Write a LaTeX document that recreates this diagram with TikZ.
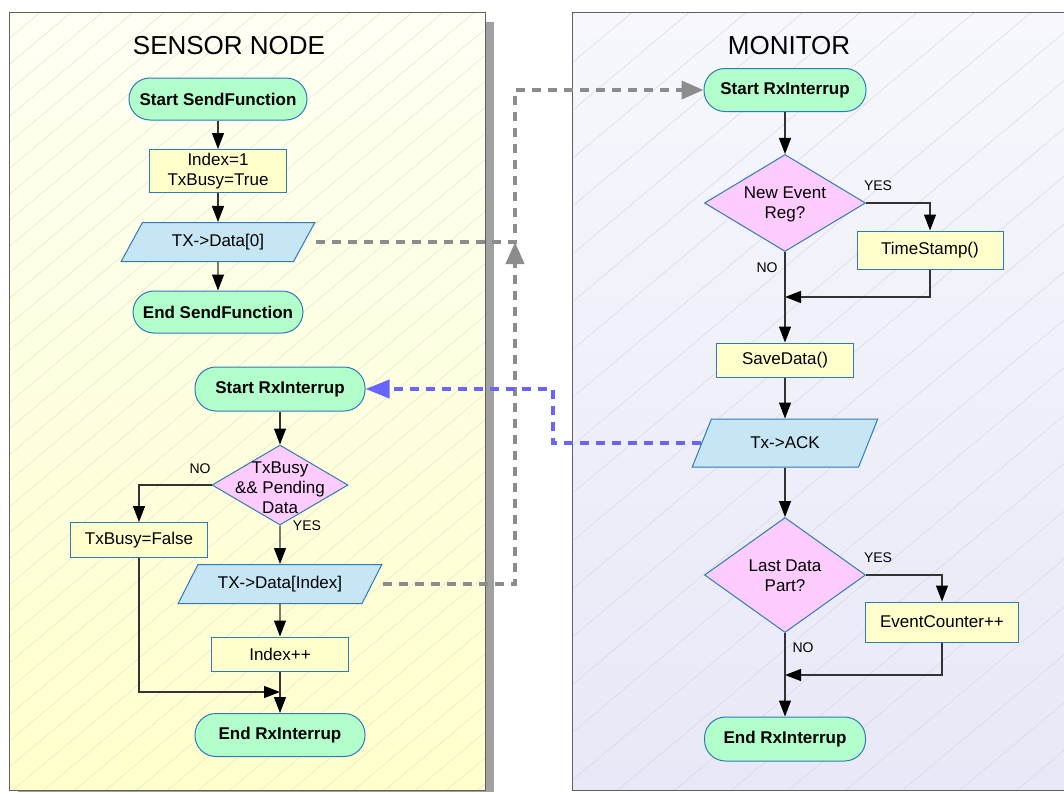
\documentclass[tikz,border=0pt]{standalone}
\usepackage{fontspec}
\setmainfont{Liberation Sans}
\usetikzlibrary{shapes.geometric,arrows.meta}

\definecolor{termfill}{HTML}{B3FFCC}
\definecolor{procfill}{HTML}{FFFFCC}
\definecolor{iofill}{HTML}{C6E5F5}
\definecolor{decfill}{HTML}{FFCCFF}
\definecolor{shapeline}{HTML}{2E7BB8}
\definecolor{flowline}{HTML}{333333}
\definecolor{dashgray}{HTML}{8C8C8C}
\definecolor{dashblue}{HTML}{6666FF}
\definecolor{panelline}{HTML}{606060}
\definecolor{shadowgray}{HTML}{A0A0A0}
\definecolor{sensortop}{HTML}{FFFFF4}
\definecolor{sensorbot}{HTML}{FFFFCC}
\definecolor{monitortop}{HTML}{F7F7FD}
\definecolor{monitorbot}{HTML}{E8E8F8}
\definecolor{hatchS}{HTML}{E2E2CE}
\definecolor{hatchM}{HTML}{D6D6E2}

\begin{document}
\begin{tikzpicture}[x=1pt,y=-1pt,
  font=\fontsize{17}{20}\selectfont,
  term/.style={rectangle, rounded corners=21pt, draw=shapeline, fill=termfill,
    line width=1pt, inner sep=0pt, font=\fontsize{17}{20}\selectfont\bfseries},
  proc/.style={rectangle, draw=shapeline, fill=procfill, line width=1pt,
    inner sep=0pt, align=center},
  io/.style={trapezium, trapezium stretches=true, draw=shapeline, fill=iofill,
    line width=1pt, inner sep=0pt},
  dec/.style={diamond, draw=shapeline, fill=decfill, line width=1pt, inner sep=0pt},
  dectext/.style={align=center, inner sep=0pt},
  lbl/.style={font=\fontsize{14}{16}\selectfont, inner sep=0pt},
  title/.style={font=\fontsize{26}{30}\selectfont, inner sep=0pt},
  flow/.style={draw=flowline, line width=1.1pt,
    -{Triangle[length=16pt,width=12pt,color=black,fill=black]}},
  gdash/.style={draw=dashgray, line width=4pt, dash pattern=on 9pt off 7pt,
    -{Triangle[length=22pt,width=18pt]}},
  bdash/.style={draw=dashblue, line width=4pt, dash pattern=on 9pt off 7pt,
    -{Triangle[length=24pt,width=18pt]}},
  panel/.style={draw=panelline, line width=1pt},
]
\useasboundingbox (0,0) rectangle (1064,792);

% ---------- panels ----------
\fill[shadowgray] (18,22) rectangle (494,792);
\shade[top color=sensortop, bottom color=sensorbot] (9,13) rectangle (485,790);
\begin{scope}
  \clip (9,13) rectangle (485,790);
  \foreach \a in {-960,-929,...,500}
    \draw[hatchS, line width=0.45pt] (\a,800) -- ++(953,-800);
\end{scope}
\draw[panel] (9,13) rectangle (485,790);

\shade[top color=monitortop, bottom color=monitorbot] (572,13) rectangle (1080,790);
\begin{scope}
  \clip (572,13) rectangle (1080,790);
  \foreach \a in {-420,-363,...,1100}
    \draw[hatchM, line width=0.45pt] (\a,800) -- ++(953,-800);
\end{scope}
\draw[panel] (572,13) rectangle (1080,790);

\node[title] (t1) at (229,46) {SENSOR NODE};
\node[title] (t2) at (789,46) {MONITOR};

% ---------- sensor node: send function ----------
\node[term, minimum width=178pt, minimum height=42pt] (s1) at (218,99) {Start SendFunction};
\node[proc, minimum width=137pt, minimum height=43pt] (p1) at (218,171) {Index=1\\TxBusy=True};
\node[io, minimum width=194pt, minimum height=39pt,
  trapezium left angle=50.6, trapezium right angle=129.4] (io1) at (218,242) {TX->Data[0]};
\node[term, minimum width=170pt, minimum height=42pt] (e1) at (218,312) {End SendFunction};

% ---------- sensor node: receive interrupt ----------
\node[term, minimum width=170pt, minimum height=44pt] (s2) at (280,389) {Start RxInterrup};
\node[dec, minimum width=136pt, minimum height=80pt] (d1) at (280,485) {};
\node[dectext] (d1t) at (280,488) {TxBusy\\\&\& Pending\\Data};
\node[proc, minimum width=137pt, minimum height=35pt] (fb) at (139,540) {TxBusy=False};
\node[io, minimum width=204pt, minimum height=39pt,
  trapezium left angle=46.5, trapezium right angle=133.5] (io2) at (280,584) {TX->Data[Index]};
\node[proc, minimum width=137pt, minimum height=34pt] (inc) at (280,654) {Index++};
\node[term, minimum width=170pt, minimum height=43pt] (e2) at (280,735) {End RxInterrup};

% ---------- monitor ----------
\node[term, minimum width=162pt, minimum height=43pt] (s3) at (785,90) {Start RxInterrup};
\node[dec, minimum width=161pt, minimum height=97pt] (d2) at (785,203) {};
\node[dectext] (d2t) at (785,204) {New Event\\Reg?};
\node[proc, minimum width=146pt, minimum height=38pt] (ts) at (930,250) {TimeStamp()};
\node[proc, minimum width=137pt, minimum height=34pt] (sd) at (785,360) {SaveData()};
\node[io, minimum width=186pt, minimum height=48pt,
  trapezium left angle=53.1, trapezium right angle=126.9] (io3) at (785,443) {Tx->ACK};
\node[dec, minimum width=161pt, minimum height=115pt] (d3) at (785,575) {};
\node[dectext] (d3t) at (785,576) {Last Data\\Part?};
\node[proc, minimum width=153pt, minimum height=40pt] (ec) at (942,622) {EventCounter++};
\node[term, minimum width=161pt, minimum height=44pt] (e3) at (785,739) {End RxInterrup};

% junction points
\coordinate (j1) at (280,692);
\coordinate (j2) at (785,297);
\coordinate (j3) at (785,675);
\coordinate (k1) at (515,90);
\coordinate (k2) at (515,242);
\coordinate (k3) at (553,389);

% ---------- solid flow ----------
\draw[flow] (s1) -- (p1);
\draw[flow] (p1) -- (io1);
\draw[flow] (io1) -- (e1);

\draw[flow] (s2) -- (d1);
\draw[flow] (d1.south) -- (io2);
\draw[flow] (d1.west) -| (fb.north);
\draw[flow] (fb.south) |- (j1);
\draw[flow] (io2) -- (inc);
\draw[flow] (inc) -- (e2);

\draw[flow] (s3) -- (d2);
\draw[flow] (d2.east) -| (ts.north);
\draw[flow] (ts.south) |- (j2);
\draw[flow] (d2.south) -- (sd.north);
\draw[flow] (sd) -- (io3);
\draw[flow] (io3) -- (d3.north);
\draw[flow] (d3.east) -| (ec.north);
\draw[flow] (ec.south) |- (j3);
\draw[flow] (d3.south) -- (e3.north);

% branch labels
\node[lbl] (n1) at (200,469) {NO};
\node[lbl] (y1) at (307,526) {YES};
\node[lbl] (y2) at (878,186) {YES};
\node[lbl] (n2) at (767,268) {NO};
\node[lbl] (y3) at (878,558) {YES};
\node[lbl] (n3) at (803,648) {NO};

% ---------- messages between the two sides ----------
\draw[gdash] (io1.top right corner |- io1.east) -| (k1) -- (s3.west);
\draw[gdash] (io2.top right corner |- io2.east) -| (k2);
\draw[bdash] (io3.west) -| (k3) -- (s2.east);
\end{tikzpicture}
\end{document}
